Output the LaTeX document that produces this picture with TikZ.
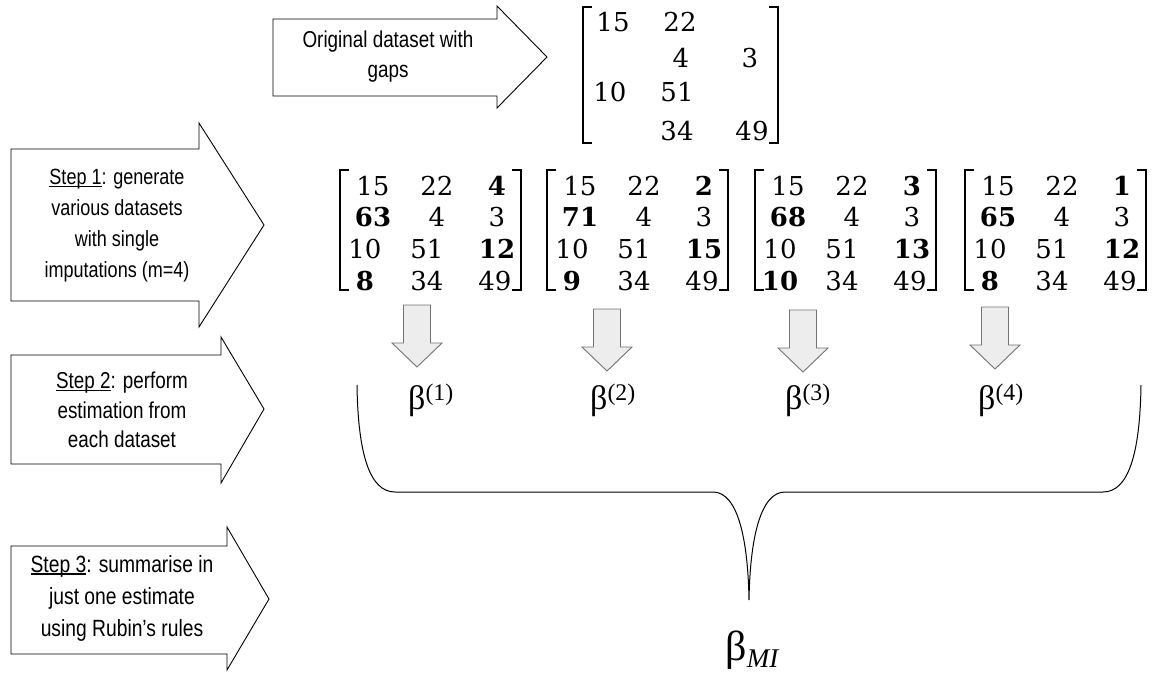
\documentclass[tikz,border=0pt]{standalone}
\usepackage{fontspec}
\setmainfont{Liberation Serif}
\newfontfamily\arrowfont[FakeStretch=0.82]{Liberation Sans}
\newfontfamily\matfont{DejaVu Serif}
\newfontfamily\betafont{Liberation Serif}
\newcommand\stepul[1]{\setbox0\hbox{#1}\rlap{\rule[-2.6pt]{\wd0}{1.3pt}}\box0}
\tikzset{
  bigarrow/.style={draw=black, line width=0.9pt, fill=white, line join=miter},
  arrowtext/.style={font=\arrowfont\fontsize{23}{30}\selectfont, align=center, inner sep=0pt},
  num/.style={font=\matfont\fontsize{26}{26}\selectfont, inner sep=0pt, anchor=base},
  bracket/.style={line width=2.2pt, line cap=butt, line join=miter},
  downarrow/.style={draw=black!55, fill=black!7, line width=0.9pt},
  betalabel/.style={font=\betafont\fontsize{34}{34}\selectfont, inner sep=0pt, anchor=west},
  bracestyle/.style={draw=black, line width=1pt}
}
\newcommand\lbr[3]{\draw[bracket] (#1+9,#2) -- (#1,#2) -- (#1,#3) -- (#1+9,#3);}
\newcommand\rbr[3]{\draw[bracket] (#1-9,#2) -- (#1,#2) -- (#1,#3) -- (#1-9,#3);}
\begin{document}
\begin{tikzpicture}[x=1pt,y=-1pt]
\useasboundingbox (0,0) rectangle (1165,677);
\fill[white] (0,0) rectangle (1165,677);

% ---- top arrow and original dataset
\draw[bigarrow] (273,19) -- (497,19) -- (497,6) -- (547,57) -- (497,108) -- (497,96) -- (273,96) -- cycle;
\node[arrowtext] (orig) at (388,57) {Original dataset with\\gaps};

\lbr{583}{7}{143}
\rbr{778}{7}{143}
\node[num] (o11) at (613,32) {15};
\node[num] (o12) at (680,32) {22};
\node[num] (o22) at (681,67) {4};
\node[num] (o23) at (750,67) {3};
\node[num] (o31) at (610,102) {10};
\node[num] (o32) at (677,102) {51};
\node[num] (o42) at (677,140) {34};
\node[num] (o43) at (752,140) {49};

% ---- step arrows
\draw[bigarrow] (11,149) -- (199,149) -- (199,123) -- (264,225) -- (199,327) -- (199,301) -- (11,301) -- cycle;
\node[arrowtext, font=\arrowfont\fontsize{22}{31}\selectfont] (s1) at (117,226)
  {\stepul{Step 1}: generate\\various datasets\\with single\\imputations (m=4)};

\draw[bigarrow] (11,355) -- (221,355) -- (221,337) -- (264,409) -- (221,483) -- (221,464) -- (11,464) -- cycle;
\node[arrowtext, font=\arrowfont\fontsize{23}{29.5}\selectfont] (s2) at (122,410)
  {\stepul{Step 2}: perform\\estimation from\\each dataset};

\draw[bigarrow] (11,546) -- (227,546) -- (227,527) -- (269,599) -- (227,670) -- (227,654) -- (11,654) -- cycle;
\node[arrowtext, font=\arrowfont\fontsize{23.5}{32}\selectfont] (s3) at (122,598)
  {\stepul{Step 3}: summarise in\\just one estimate\\using Rubin’s rules};

% ---- imputed datasets
\foreach \L/\a/\b/\c/\d [count=\k] in {
   340/{\textbf{4}}/{\textbf{63}}/{\textbf{12}}/{\textbf{8}},
   547/{\textbf{2}}/{\textbf{71}}/{\textbf{15}}/{\textbf{9}},
   755/{\textbf{3}}/{\textbf{68}}/{\textbf{13}}/{\textbf{10}},
   965/{\textbf{1}}/{\textbf{65}}/{\textbf{12}}/{\textbf{8}}}{
  \lbr{\L}{170}{290}
  \rbr{\L+181}{170}{290}
  \node[num] (m\k-11) at (\L+33,195) {15};
  \node[num] (m\k-12) at (\L+97,195) {22};
  \node[num] (m\k-13) at (\L+157,195) {\a};
  \node[num] (m\k-21) at (\L+33,226) {\b};
  \node[num] (m\k-22) at (\L+97,226) {4};
  \node[num] (m\k-23) at (\L+157,226) {3};
  \node[num] (m\k-31) at (\L+25,258) {10};
  \node[num] (m\k-32) at (\L+87,258) {51};
  \node[num] (m\k-33) at (\L+157,258) {\c};
  \node[num] (m\k-41) at (\L+25,290) {\d};
  \node[num] (m\k-42) at (\L+87,290) {34};
  \node[num] (m\k-43) at (\L+155,290) {49};
}

% ---- down arrows
\foreach \x/\t [count=\k] in {417/305, 607/309, 803/310, 995/307}{
  \draw[downarrow] (\x-13.5,\t) -- (\x+13.5,\t) -- (\x+13.5,\t+38) -- (\x+25,\t+38)
     -- (\x,\t+62) -- (\x-25,\t+38) -- (\x-13.5,\t+38) -- cycle;
}

% ---- estimates
\node[betalabel] (b1) at (408,400) {β\textsuperscript{(1)}};
\node[betalabel] (b2) at (590,400) {β\textsuperscript{(2)}};
\node[betalabel] (b3) at (785,400) {β\textsuperscript{(3)}};
\node[betalabel] (b4) at (978,400) {β\textsuperscript{(4)}};

% ---- brace
\draw[bracestyle] (357,385) .. controls (358,455) and (370,492) .. (395,492)
   -- (713,492) .. controls (738,492) and (748,540) .. (749,600)
   .. controls (750,540) and (760,492) .. (785,492)
   -- (1103,492) .. controls (1128,492) and (1140,455) .. (1141,385);

\node[font=\betafont\fontsize{42}{42}\selectfont, inner sep=0pt] (bmi) at (752,650)
  {β\raisebox{-0.35ex}{\fontsize{27}{27}\selectfont\itshape MI}};
\end{tikzpicture}
\end{document}
